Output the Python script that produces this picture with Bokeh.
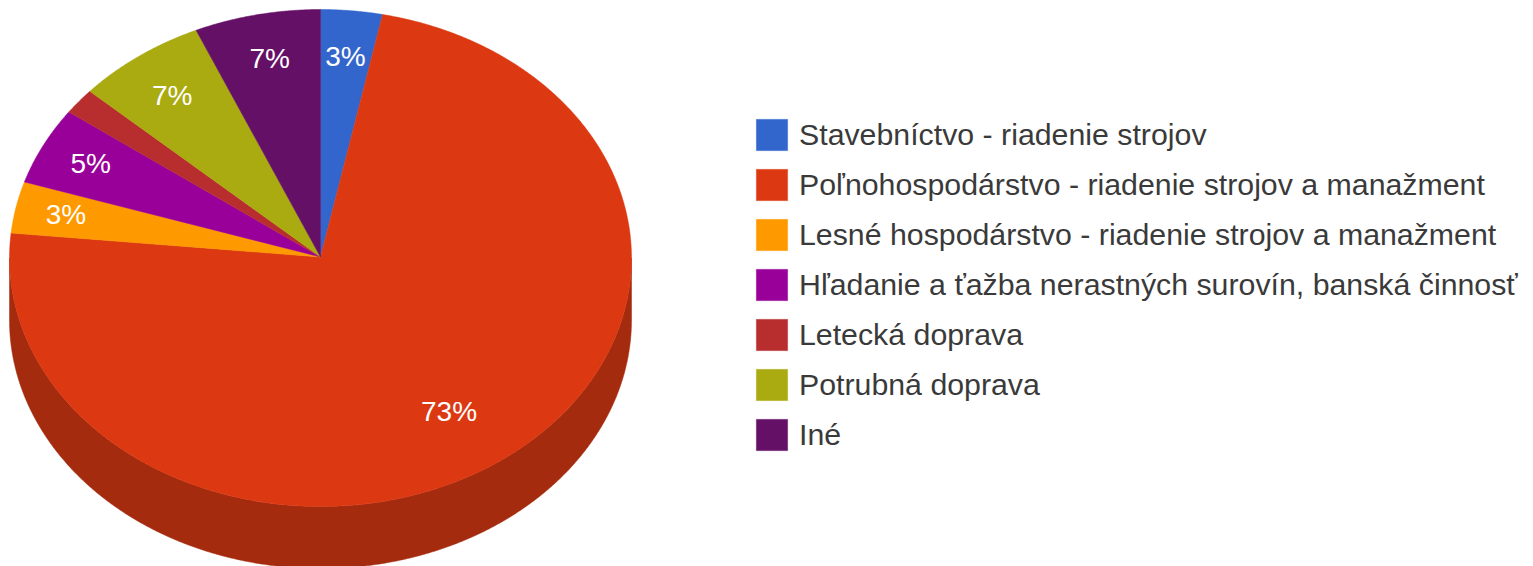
import numpy as np
from bokeh.embed import file_html
from bokeh.resources import INLINE
from bokeh.plotting import figure
from bokeh.models import Legend, LegendItem, ColumnDataSource
from bokeh.core.properties import value

categories = [
    "Stavebníctvo - riadenie strojov",
    "Poľnohospodárstvo - riadenie strojov a manažment",
    "Lesné hospodárstvo - riadenie strojov a manažment",
    "Hľadanie a ťažba nerastných surovín, banská činnosť",
    "Letecká doprava",
    "Potrubná doprava",
    "Iné",
]
shares = [3.2, 73.4, 3.35, 5.05, 1.7, 6.75, 6.55]
labels = ["3%", "73%", "3%", "5%", "", "7%", "7%"]
colors = ["#3366cc", "#dc3912", "#ff9900", "#990099", "#b82e2e", "#aaaa11", "#651067"]
side_colors = ["#264c99", "#a52b0e", "#bf7300", "#730073", "#8a2222", "#80800d", "#4c0c4d"]

W, H = 1533, 566
CX, CY, RX, RY, DEPTH = 320.0, 257.5, 311.0, 248.5, 62.0
APEX_Y = 256.5
FONT = "Liberation Sans"
# small shifts of the percent labels away from their computed anchor
label_dx = [0, -19, -11, -8, 0, -3, 0]
label_dy = [-3, -6, -2, -4, 0, 0, -4]

p = figure(width=W, height=H, x_range=(0, W), y_range=(H, 0), toolbar_location=None,
           output_backend="svg", min_border=0, outline_line_color=None,
           background_fill_color="white", border_fill_color="white")
p.axis.visible = False
p.grid.visible = False
p.styles = {"position": "absolute", "left": "0px", "top": "0px"}

fracs = np.array(shares) / sum(shares)
stops = np.concatenate([[0.0], np.cumsum(fracs)]) * 2 * np.pi


def rim(t0, t1, dy=0.0):
    n = max(2, int((t1 - t0) / 0.005))
    t = np.linspace(t0, t1, n)
    return CX + RX * np.sin(t), CY - RY * np.cos(t) + dy


# outer wall: only the front half of the rim can be seen
for i in range(len(shares)):
    t0 = max(stops[i], np.pi / 2)
    t1 = min(stops[i + 1], 3 * np.pi / 2)
    if t1 > t0:
        x, y = rim(t0, t1)
        xb, yb = rim(t0, t1, DEPTH)
        p.patch(np.concatenate([x, xb[::-1]]), np.concatenate([y, yb[::-1]]),
                fill_color=side_colors[i], line_color=side_colors[i], line_width=0.5)

# top face
items = []
for i, cat in enumerate(categories):
    x, y = rim(stops[i], stops[i + 1])
    r = p.patch(np.concatenate([[CX], x]), np.concatenate([[APEX_Y], y]),
                fill_color=colors[i], line_color=colors[i], line_width=0.5)
    items.append(LegendItem(label=cat, renderers=[r]))

# percent labels
mids = (stops[:-1] + stops[1:]) / 2
src = ColumnDataSource(dict(
    x=CX + 0.8 * RX * np.sin(mids) + np.array(label_dx),
    y=APEX_Y - 0.8 * RY * np.cos(mids) + np.array(label_dy),
    t=labels,
))
p.text("x", "y", text="t", source=src, text_color="#ffffff", text_align="center",
       text_baseline="middle", text_font=value(FONT), text_font_size="28px")

legend = Legend(items=items, location=(752, 112), orientation="vertical", padding=0, margin=0,
                spacing=11, glyph_width=39, glyph_height=39, label_standoff=8,
                label_text_font=FONT, label_text_font_size="30.3px", label_text_color="#3a3a3a",
                label_height=39, border_line_color=None, background_fill_alpha=0,
                click_policy="none")
p.add_layout(legend, "center")

open("out.html", "w").write(file_html(p, INLINE))
